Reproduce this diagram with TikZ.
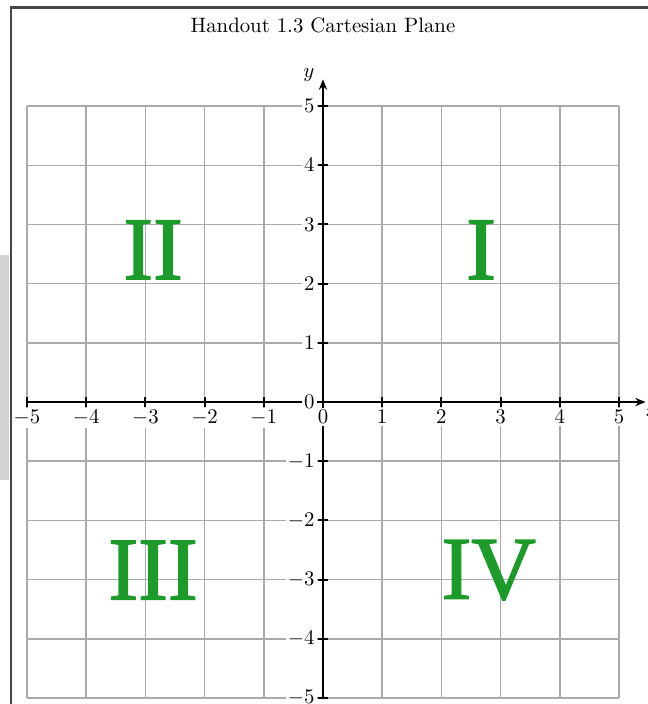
\documentclass[tikz,border=0pt]{standalone}
\usepackage{fontspec}
\newfontfamily\romanfont[FakeBold=1.6]{Liberation Serif}
\usetikzlibrary{arrows.meta}
\definecolor{quadgreen}{RGB}{28,155,42}
\definecolor{gridgray}{RGB}{170,170,170}
\definecolor{framegray}{RGB}{70,70,70}
\tikzset{
  gridline/.style={draw=gridgray, line width=0.7pt},
  axisline/.style={draw=black, line width=0.75pt, -{Stealth[length=5pt,width=4pt]}},
  tickmark/.style={draw=black, line width=0.9pt},
  ticklabel/.style={fill=white, inner sep=1pt, font=\normalsize},
  quadlabel/.style={text=quadgreen, font=\romanfont\fontsize{43}{43}\selectfont, inner sep=0pt},
}
\begin{document}
\begin{tikzpicture}
\useasboundingbox (-5.456,-5.101) rectangle (5.490,6.791);
% page frame and watermark strip
\fill[gray!35] (-5.456,-1.32) rectangle (-5.30,2.48);
\draw[framegray, line width=1.4pt] (-5.27,-5.2) -- (-5.27,6.67) -- (5.6,6.67);
% title
\node (title) at (0,6.37) {Handout 1.3 Cartesian Plane};
% grid
\foreach \i in {-5,...,5} {
  \draw[gridline] (\i,-5) -- (\i,5);
  \draw[gridline] (-5,\i) -- (5,\i);
}
% axes
\coordinate (xstart) at (-5,0);
\coordinate (xend) at (5.45,0);
\coordinate (ystart) at (0,-5);
\coordinate (yend) at (0,5.45);
\draw[axisline] (xstart) -- (xend);
\draw[axisline] (ystart) -- (yend);
\node (xlab) at (5.56,-0.17) {$x$};
\node (ylab) at (-0.24,5.52) {$y$};
% ticks and labels
\foreach \i in {-5,...,5} {
  \draw[tickmark] (\i,-0.09) -- (\i,0.09);
  \draw[tickmark] (-0.09,\i) -- (0.09,\i);
  \node[ticklabel, anchor=north] (xt\i) at (\i,-0.1) {$\i$};
  \node[ticklabel, anchor=east] (yt\i) at (-0.1,\i) {$\i$};
}
% quadrant labels
\node[quadlabel] (qI) at (2.67,2.57) {I};
\node[quadlabel] (qII) at (-2.87,2.57) {II};
\node[quadlabel] (qIII) at (-2.87,-2.84) {III};
\node[quadlabel] (qIV) at (2.80,-2.84) {IV};
\end{tikzpicture}
\end{document}
